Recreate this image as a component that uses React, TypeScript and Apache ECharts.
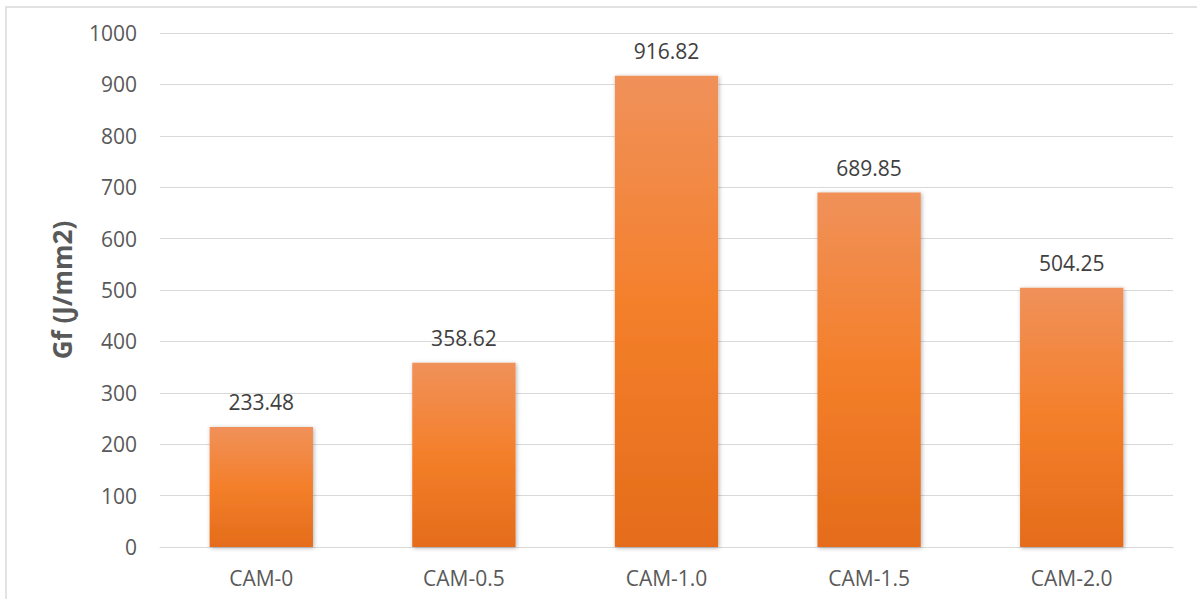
import React, { useEffect, useRef } from "react";
import * as echarts from "echarts";

const categories = ["CAM-0", "CAM-0.5", "CAM-1.0", "CAM-1.5", "CAM-2.0"];
const gfValues = [233.48, 358.62, 916.82, 689.85, 504.25];
const yMin = 0;
const yMax = 1000;
const yStep = 100;

export default function App() {
  const ref = useRef<HTMLDivElement>(null);

  useEffect(() => {
    if (!ref.current) return;
    const chart = echarts.init(ref.current, null, { renderer: "svg" });
    const font = "'Open Sans', 'Liberation Sans', sans-serif";
    chart.setOption({
      animation: false,
      backgroundColor: "#ffffff",
      grid: { left: 160, right: 24, top: 33, bottom: 52 },
      graphic: [
        {
          type: "rect",
          shape: { x: 6, y: 7, width: 1400, height: 800 },
          style: { fill: "none", stroke: "#d9d9d9", lineWidth: 1.5 },
          silent: true,
          z: -1,
        },
      ],
      xAxis: {
        type: "category",
        data: categories,
        axisLine: { show: true, lineStyle: { color: "#d9d9d9", width: 1 } },
        axisTick: { show: false },
        axisLabel: { color: "#595959", fontSize: 21, fontFamily: font, margin: 20 },
      },
      yAxis: {
        type: "value",
        min: yMin,
        max: yMax,
        interval: yStep,
        name: "Gf (J/mm2)",
        nameLocation: "middle",
        nameGap: 85,
        nameTextStyle: { color: "#595959", fontSize: 26, fontWeight: "bold", fontFamily: font },
        axisLine: { show: false },
        axisTick: { show: false },
        axisLabel: {
          color: "#595959",
          fontSize: 21,
          fontFamily: font,
          margin: 23,
          formatter: (v: number) => String(v),
        },
        splitLine: { lineStyle: { color: "#d9d9d9", width: 1 } },
      },
      series: [
        {
          type: "bar",
          data: gfValues,
          barWidth: "51%",
          itemStyle: {
            color: new echarts.graphic.LinearGradient(0, 0, 0, 1, [
              { offset: 0, color: "#f0915a" },
              { offset: 0.5, color: "#f47f2a" },
              { offset: 1, color: "#e46c1b" },
            ]),
            shadowBlur: 4,
            shadowColor: "rgba(0,0,0,0.3)",
            shadowOffsetX: 1,
            shadowOffsetY: 1,
          },
          label: {
            show: true,
            position: "top",
            distance: 14,
            color: "#404040",
            fontSize: 21,
            fontFamily: font,
            formatter: (p: any) => p.value.toFixed(2),
          },
        },
      ],
    });
    return () => chart.dispose();
  }, []);

  return (
    <div
      ref={ref}
      style={{ position: "fixed", left: 0, top: 0, width: 1197, height: 599 }}
    />
  );
}
